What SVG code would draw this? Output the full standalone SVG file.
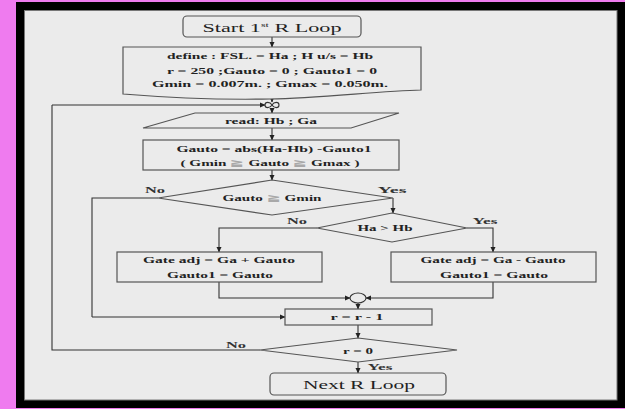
<svg xmlns="http://www.w3.org/2000/svg" width="625" height="409" viewBox="0 0 625 409">
<defs>
<marker id="ah" markerWidth="6" markerHeight="6" refX="5" refY="3" orient="auto" markerUnits="userSpaceOnUse">
<path d="M0,0.5 L5.5,3 L0,5.5 Z" fill="#222"/>
</marker>
<style>
.shape{fill:#ebebeb;stroke:#555;stroke-width:1.2}
.conn{fill:none;stroke:#333;stroke-width:1.1}
.arr{marker-end:url(#ah)}
text{font-family:"Liberation Serif","Times New Roman",serif;fill:#222;text-anchor:middle}
.sm{font-size:8.5px;font-weight:bold}
.big{font-size:13px}
.lbl{font-size:8px;font-weight:bold;fill:#333}
.ge{fill:#a8a8a8}
</style>
</defs>
<rect x="0" y="0" width="625" height="409" fill="#ef7bef"/>
<rect x="16" y="2" width="609" height="406" fill="#000"/>
<rect x="24.5" y="10.5" width="592.5" height="389.5" fill="#ebebeb" stroke="#777" stroke-width="1"/>

<g id="connectors">
<line class="conn arr" x1="272" y1="37" x2="272" y2="47"/>
<line class="conn arr" x1="272" y1="97" x2="272" y2="102"/>
<line class="conn arr" x1="272" y1="108.5" x2="272" y2="113"/>
<line class="conn arr" x1="272" y1="128" x2="272" y2="140"/>
<line class="conn arr" x1="272" y1="170" x2="272" y2="180"/>
<polyline class="conn arr" points="393,198 393,213"/>
<polyline class="conn" points="158,198 92,198 92,317"/>
<polyline class="conn arr" points="92,317 285,317"/>
<polyline class="conn arr" points="317,228 219,228 219,252"/>
<polyline class="conn arr" points="467,228 493,228 493,252"/>
<polyline class="conn arr" points="219,282 219,298 350,298"/>
<polyline class="conn arr" points="493,282 493,298 366,298"/>
<line class="conn arr" x1="358" y1="303" x2="358" y2="309"/>
<line class="conn arr" x1="358" y1="325" x2="358" y2="338"/>
<line class="conn arr" x1="358" y1="362" x2="358" y2="373"/>
<polyline class="conn" points="260,350 52,350 52,105"/>
<polyline class="conn arr" points="52,105 265,105"/>
</g>

<g id="start">
<rect class="shape" x="183" y="16" width="178" height="21" rx="4"/>
<text class="big" x="272" y="32" textLength="139" lengthAdjust="spacingAndGlyphs">Start 1<tspan font-size="7" dy="-5">st</tspan><tspan dy="5"> R Loop</tspan></text>
</g>

<g id="define">
<path class="shape" d="M123,47 H421 V90 C380,91 320,98 270,99 C220,100 160,97 123,94 Z"/>
<text class="sm" x="270" y="59" textLength="206" lengthAdjust="spacingAndGlyphs">define : FSL. = Ha ; H u/s = Hb</text>
<text class="sm" x="272" y="74" textLength="210" lengthAdjust="spacingAndGlyphs">r = 250 ;Gauto = 0 ; Gauto1 = 0</text>
<text class="sm" x="270" y="87" textLength="236" lengthAdjust="spacingAndGlyphs">Gmin = 0.007m. ; Gmax = 0.050m.</text>
</g>

<g id="merge1">
<path d="M272,105 C270,101.5 265,101.5 265,105 C265,108.5 270,108.5 272,105 C274,101.5 279,101.5 279,105 C279,108.5 274,108.5 272,105 Z" fill="#ebebeb" stroke="#333" stroke-width="1.1"/>
</g>

<g id="read">
<polygon class="shape" points="195,113 399,113 351,128 143,128"/>
<text class="sm" x="271" y="124" textLength="92" lengthAdjust="spacingAndGlyphs">read: Hb ; Ga</text>
</g>

<g id="calc">
<rect class="shape" x="143" y="140" width="256" height="30"/>
<text class="sm" x="274" y="152" textLength="195" lengthAdjust="spacingAndGlyphs">Gauto = abs(Ha-Hb) -Gauto1</text>
<text class="sm" x="270" y="166" textLength="179" lengthAdjust="spacingAndGlyphs">( Gmin <tspan class="ge">≧</tspan> Gauto <tspan class="ge">≧</tspan> Gmax )</text>
</g>

<g id="dec1">
<polygon class="shape" points="272,180 393,198 272,215 158,198"/>
<text class="sm" x="272" y="201" textLength="99" lengthAdjust="spacingAndGlyphs">Gauto <tspan class="ge">≧</tspan> Gmin</text>
<text class="lbl" x="155" y="193" textLength="20" lengthAdjust="spacingAndGlyphs">No</text>
<text class="lbl" x="392" y="193" textLength="29" lengthAdjust="spacingAndGlyphs">Yes</text>
</g>

<g id="dec2">
<polygon class="shape" points="392,213 467,228 392,242 317,228"/>
<text class="sm" x="385" y="231" textLength="55" lengthAdjust="spacingAndGlyphs">Ha &gt; Hb</text>
<text class="lbl" x="297" y="224" textLength="20" lengthAdjust="spacingAndGlyphs">No</text>
<text class="lbl" x="485" y="224" textLength="25" lengthAdjust="spacingAndGlyphs">Yes</text>
</g>

<g id="plus">
<rect class="shape" x="117" y="252" width="205" height="30"/>
<text class="sm" x="219" y="263" textLength="152" lengthAdjust="spacingAndGlyphs">Gate adj = Ga + Gauto</text>
<text class="sm" x="220" y="278" textLength="106" lengthAdjust="spacingAndGlyphs">Gauto1 = Gauto</text>
</g>

<g id="minus">
<rect class="shape" x="391" y="252" width="205" height="30"/>
<text class="sm" x="493" y="263" textLength="145" lengthAdjust="spacingAndGlyphs">Gate adj = Ga - Gauto</text>
<text class="sm" x="494" y="278" textLength="108" lengthAdjust="spacingAndGlyphs">Gauto1 = Gauto</text>
</g>

<g id="merge2">
<ellipse cx="358" cy="298" rx="8" ry="5" fill="#ebebeb" stroke="#333" stroke-width="1.1"/>
</g>

<g id="decr">
<rect class="shape" x="285" y="309" width="147" height="16"/>
<text class="sm" x="357" y="320" textLength="53" lengthAdjust="spacingAndGlyphs">r = r - 1</text>
</g>

<g id="dec3">
<polygon class="shape" points="358,338 457,350 358,362 260,350"/>
<text class="sm" x="358" y="354" textLength="30" lengthAdjust="spacingAndGlyphs">r = 0</text>
<text class="lbl" x="236" y="348" textLength="20" lengthAdjust="spacingAndGlyphs">No</text>
<text class="lbl" x="380" y="370" textLength="25" lengthAdjust="spacingAndGlyphs">Yes</text>
</g>

<g id="next">
<rect class="shape" x="270" y="373" width="176" height="22" rx="4"/>
<text class="big" x="359" y="389" textLength="112" lengthAdjust="spacingAndGlyphs">Next R Loop</text>
</g>
</svg>
